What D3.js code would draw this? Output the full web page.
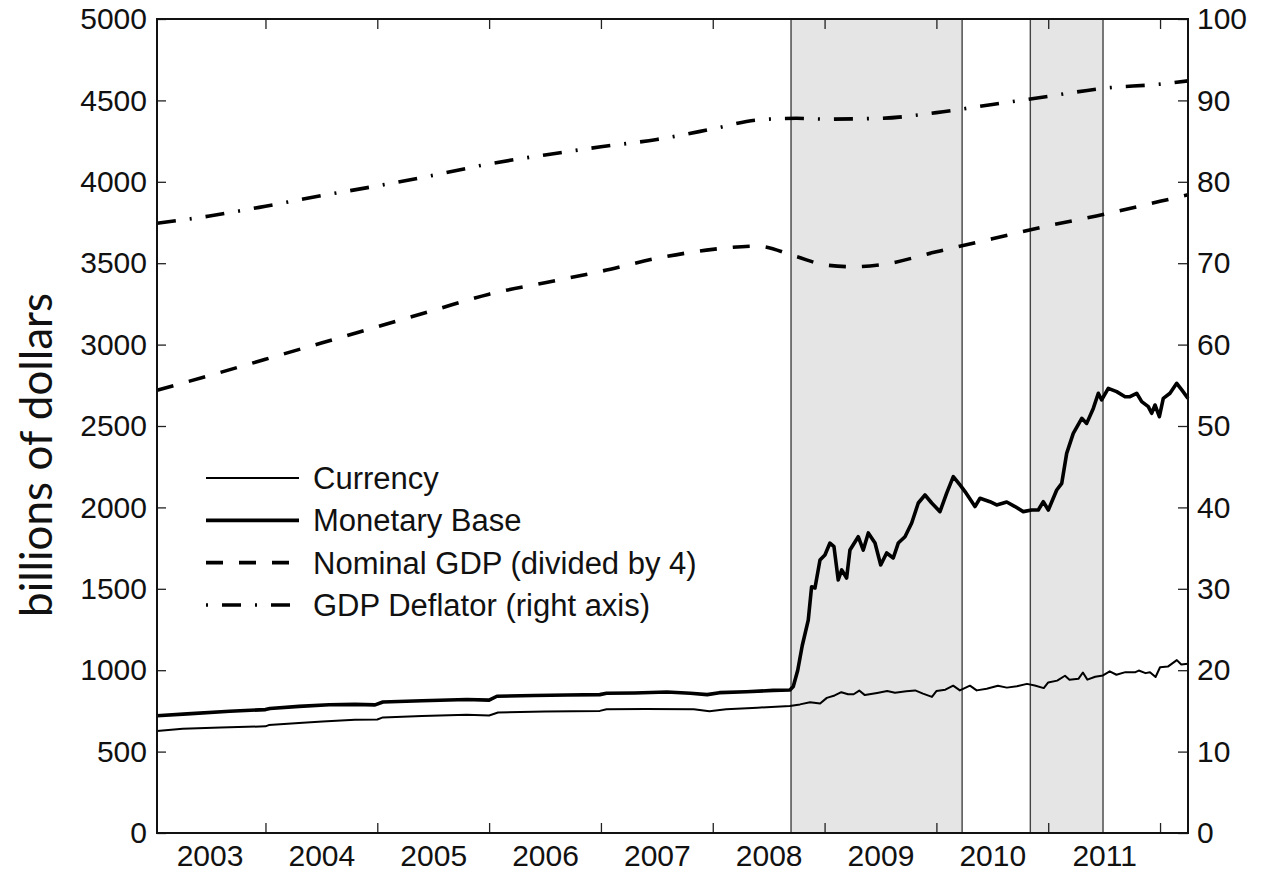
<!DOCTYPE html>
<html>
<head>
<meta charset="utf-8">
<script src="https://d3js.org/d3.v7.min.js"></script>
<style>
  body { margin: 0; background: #fff; }
  svg { display: block; }
  .tick text { font-family: "Liberation Sans", Arial, sans-serif; font-size: 30px; fill: #111; }
  .tick line { stroke: #222; stroke-width: 1.3; }
  .legend text { font-family: "Liberation Sans", Arial, sans-serif; font-size: 31px; fill: #111; }
</style>
</head>
<body>
<div id="chart"></div>
<script>
// [decimal year, billions of dollars]
var currency = [
  [2003.03, 626], [2003.26, 640], [2003.6, 648], [2004.0, 655], [2004.03, 663], [2004.3, 675],
  [2004.51, 685], [2004.8, 695], [2005.0, 697], [2005.05, 710], [2005.4, 718], [2005.8, 726],
  [2006.0, 722], [2006.08, 740], [2006.5, 746], [2006.99, 750], [2007.05, 760], [2007.4, 762],
  [2007.83, 760], [2007.97, 748], [2008.12, 760], [2008.4, 770], [2008.69, 780],
  [2008.78, 790], [2008.87, 803], [2008.96, 795], [2009.02, 830], [2009.09, 845], [2009.15, 865],
  [2009.21, 852], [2009.26, 852], [2009.31, 875], [2009.36, 847], [2009.47, 860], [2009.56, 872],
  [2009.63, 862], [2009.73, 870], [2009.81, 876], [2009.88, 856], [2009.96, 836], [2010.00, 872],
  [2010.08, 880], [2010.15, 905], [2010.21, 876], [2010.30, 905], [2010.36, 876], [2010.45, 886],
  [2010.55, 905], [2010.63, 893], [2010.72, 902], [2010.81, 916], [2010.88, 906], [2010.96, 890],
  [2011.00, 925], [2011.08, 936], [2011.15, 966], [2011.19, 941], [2011.27, 947], [2011.31, 986],
  [2011.35, 942], [2011.42, 960], [2011.49, 968], [2011.55, 993], [2011.61, 972], [2011.69, 988],
  [2011.78, 988], [2011.81, 998], [2011.87, 982], [2011.91, 988], [2011.96, 958], [2012.00, 1018],
  [2012.07, 1022], [2012.15, 1062], [2012.19, 1035], [2012.25, 1040]
]

var monetaryBase = [
  [2003.03, 720], [2003.3, 732], [2003.68, 748], [2004.0, 758], [2004.04, 765], [2004.3, 778],
  [2004.57, 788], [2004.8, 790], [2004.98, 787], [2005.05, 805], [2005.4, 812], [2005.8, 820],
  [2006.0, 816], [2006.07, 840], [2006.4, 845], [2006.7, 848], [2006.99, 850], [2007.05, 858],
  [2007.3, 860], [2007.59, 866], [2007.8, 858], [2007.95, 850], [2008.06, 862], [2008.3, 868],
  [2008.54, 876], [2008.69, 878],
  [2008.72, 900], [2008.76, 1000], [2008.8, 1150], [2008.854, 1308], [2008.884, 1513],
  [2008.914, 1505], [2008.959, 1677], [2009.003, 1708], [2009.048, 1781], [2009.084, 1759],
  [2009.122, 1554], [2009.153, 1616], [2009.197, 1566], [2009.227, 1738], [2009.301, 1820],
  [2009.346, 1738], [2009.391, 1843], [2009.451, 1781], [2009.502, 1646], [2009.555, 1720],
  [2009.614, 1689], [2009.659, 1781], [2009.719, 1820], [2009.779, 1904], [2009.838, 2027],
  [2009.898, 2076], [2009.958, 2027], [2010.032, 1974], [2010.092, 2088], [2010.151, 2189],
  [2010.211, 2138], [2010.256, 2097], [2010.345, 2005], [2010.39, 2056], [2010.479, 2035],
  [2010.539, 2015], [2010.629, 2033], [2010.703, 2005], [2010.777, 1974], [2010.852, 1984],
  [2010.911, 1984], [2010.956, 2035], [2011.001, 1984], [2011.076, 2107], [2011.121, 2148],
  [2011.165, 2332], [2011.224, 2455], [2011.3, 2547], [2011.344, 2516], [2011.403, 2608],
  [2011.448, 2701], [2011.478, 2660], [2011.537, 2731], [2011.612, 2711], [2011.687, 2680],
  [2011.731, 2680], [2011.791, 2701], [2011.836, 2650], [2011.895, 2619], [2011.925, 2578],
  [2011.955, 2629], [2011.994, 2557], [2012.029, 2670], [2012.089, 2701], [2012.149, 2762],
  [2012.196, 2720], [2012.25, 2670]
]

var nominalGdp4 = [
  [2003.03, 2720], [2003.5, 2810], [2004.0, 2910], [2004.5, 3010], [2005.0, 3110], [2005.5, 3210],
  [2006.0, 3310], [2006.5, 3380], [2007.0, 3450], [2007.5, 3530], [2008.0, 3585], [2008.4, 3605],
  [2008.75, 3540], [2009.0, 3490], [2009.25, 3478], [2009.5, 3490], [2010.0, 3570], [2010.5, 3650],
  [2011.0, 3730], [2011.5, 3800], [2012.0, 3880], [2012.25, 3920]
]

// right axis, index
var gdpDeflator = [
  [2003.03, 74.9], [2003.5, 75.8], [2004.0, 77.0], [2004.5, 78.3], [2005.0, 79.5], [2005.5, 80.8],
  [2006.0, 82.2], [2006.5, 83.3], [2007.0, 84.3], [2007.5, 85.2], [2008.0, 86.5], [2008.4, 87.6],
  [2008.75, 87.8], [2009.0, 87.7], [2009.5, 87.8], [2010.0, 88.5], [2010.5, 89.5], [2011.0, 90.5],
  [2011.5, 91.5], [2012.0, 92.0], [2012.25, 92.4]
]

// shaded periods (QE1, QE2)
var shaded = [[2008.70, 2010.23], [2010.84, 2011.49]]

var yearLabels = [2003, 2004, 2005, 2006, 2007, 2008, 2009, 2010, 2011]
var yearBreaks = [2004, 2005, 2006, 2007, 2008, 2009, 2010, 2011, 2012]
var leftTicks = d3.range(0, 5001, 500)
var rightTicks = d3.range(0, 101, 10)

var legendItems = [
  { name: "Currency", width: 2, dash: null },
  { name: "Monetary Base", width: 3.6, dash: null },
  { name: "Nominal GDP (divided by 4)", width: 3.6, dash: "17,16" },
  { name: "GDP Deflator (right axis)", width: 3.6, dash: "2,14,19,14" }
]

var width = 1271
var height = 876
var plot = { left: 157, right: 1188, top: 19, bottom: 833 }

var svg = d3.select("#chart").append("svg")
  .attr("width", width)
  .attr("height", height)

var x = d3.scaleLinear().domain([2003.03, 2012.25]).range([plot.left, plot.right])
var yL = d3.scaleLinear().domain([0, 5000]).range([plot.bottom, plot.top])
var yR = d3.scaleLinear().domain([0, 100]).range([plot.bottom, plot.top])

// shaded bands
svg.selectAll("rect.band")
  .data(shaded)
  .enter().append("rect")
  .attr("class", "band")
  .attr("x", d => x(d[0]))
  .attr("y", plot.top)
  .attr("width", d => x(d[1]) - x(d[0]))
  .attr("height", plot.bottom - plot.top)
  .attr("fill", "#e5e5e5")
  .attr("stroke", "#444")
  .attr("stroke-width", 1.4)

// lines
var lineL = d3.line().x(d => x(d[0])).y(d => yL(d[1]))
var smoothL = d3.line().curve(d3.curveMonotoneX).x(d => x(d[0])).y(d => yL(d[1]))
var smoothR = d3.line().curve(d3.curveMonotoneX).x(d => x(d[0])).y(d => yR(d[1]))

svg.append("path").datum(gdpDeflator)
  .attr("d", smoothR).attr("fill", "none").attr("stroke", "#000")
  .attr("stroke-width", 3.6).attr("stroke-dasharray", "19,14,2,14")

svg.append("path").datum(nominalGdp4)
  .attr("d", smoothL).attr("fill", "none").attr("stroke", "#000")
  .attr("stroke-width", 3.6).attr("stroke-dasharray", "17,16")

svg.append("path").datum(currency)
  .attr("d", lineL).attr("fill", "none").attr("stroke", "#000")
  .attr("stroke-width", 2).attr("stroke-linejoin", "round")

svg.append("path").datum(monetaryBase)
  .attr("d", lineL).attr("fill", "none").attr("stroke", "#000")
  .attr("stroke-width", 3.6).attr("stroke-linejoin", "round")

// axes (ticks point inward)
svg.append("g").attr("transform", "translate(" + plot.left + ",0)")
  .call(d3.axisLeft(yL).tickValues(leftTicks).tickFormat(d3.format("d"))
    .tickSizeInner(-9).tickSizeOuter(0).tickPadding(10))
svg.append("g").attr("transform", "translate(" + plot.right + ",0)")
  .call(d3.axisRight(yR).tickValues(rightTicks).tickFormat(d3.format("d"))
    .tickSizeInner(-10).tickSizeOuter(0).tickPadding(9))
svg.append("g").attr("transform", "translate(0," + plot.bottom + ")")
  .call(d3.axisBottom(x).tickValues(yearBreaks).tickSizeInner(-10).tickSizeOuter(0).tickFormat(""))
svg.append("g").attr("transform", "translate(0," + plot.top + ")")
  .call(d3.axisTop(x).tickValues(yearBreaks).tickSizeInner(-10).tickSizeOuter(0).tickFormat(""))
svg.append("g").attr("transform", "translate(0," + plot.bottom + ")")
  .call(d3.axisBottom(x).tickValues(yearLabels.map(d => d + 0.5)).tickSize(0).tickPadding(12)
    .tickFormat(d => Math.floor(d)))

svg.selectAll(".domain").remove()

// frame
svg.append("rect")
  .attr("x", plot.left).attr("y", plot.top)
  .attr("width", plot.right - plot.left).attr("height", plot.bottom - plot.top)
  .attr("fill", "none").attr("stroke", "#111").attr("stroke-width", 2)

// legend
var legend = svg.append("g").attr("class", "legend")
var rowY = d3.scalePoint().domain(legendItems.map(d => d.name)).range([478, 605])

legendItems.forEach(function (item) {
  var yy = rowY(item.name)
  legend.append("line")
    .attr("x1", 206).attr("x2", 299).attr("y1", yy).attr("y2", yy)
    .attr("stroke", "#000").attr("stroke-width", item.width)
    .attr("stroke-dasharray", item.dash)
  legend.append("text")
    .attr("x", 313).attr("y", yy).attr("dy", "0.35em")
    .text(item.name)
})

// y axis title, sized to the reference length
var ylab = svg.append("text")
  .attr("transform", "translate(52,455) rotate(-90)")
  .attr("text-anchor", "middle")
  .style("font-family", "Lato, 'Open Sans', sans-serif")
  .style("font-size", "40px")
  .attr("fill", "#111")
  .text("billions of dollars")
var len = ylab.node().getComputedTextLength()
ylab.style("font-size", (40 * 324 / len) + "px")
</script>
</body>
</html>
